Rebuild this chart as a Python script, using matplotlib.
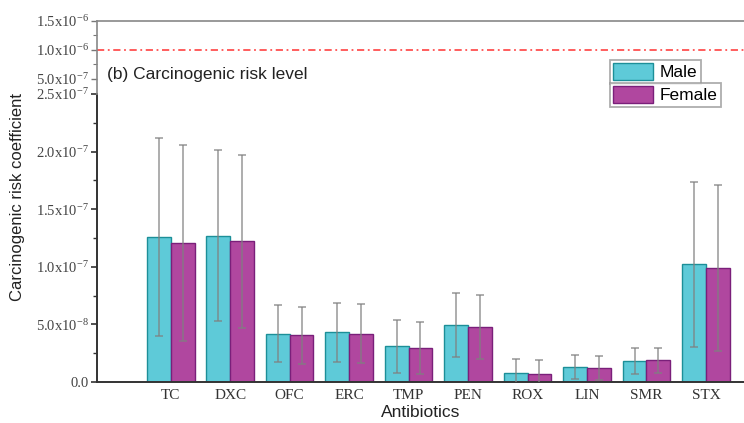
import numpy as np
import matplotlib
matplotlib.use("Agg")
import matplotlib.pyplot as plt
from matplotlib.patches import Patch
from matplotlib.ticker import FixedLocator

plt.rcParams['mathtext.fontset'] = 'custom'
plt.rcParams['mathtext.rm'] = 'Liberation Serif'

cats = ['TC', 'DXC', 'OFC', 'ERC', 'TMP', 'PEN', 'ROX', 'LIN', 'SMR', 'STX']
male = [1.26e-7, 1.27e-7, 4.2e-8, 4.3e-8, 3.1e-8, 4.95e-8, 7.8e-9, 1.3e-8, 1.82e-8, 1.02e-7]
male_err = [8.6e-8, 7.4e-8, 2.5e-8, 2.6e-8, 2.3e-8, 2.75e-8, 1.2e-8, 1.05e-8, 1.15e-8, 7.15e-8]
female = [1.21e-7, 1.22e-7, 4.05e-8, 4.2e-8, 2.98e-8, 4.77e-8, 7.2e-9, 1.24e-8, 1.88e-8, 9.9e-8]
female_err = [8.5e-8, 7.5e-8, 2.45e-8, 2.55e-8, 2.25e-8, 2.75e-8, 1.2e-8, 1.05e-8, 1.1e-8, 7.2e-8]
threshold = 1.0e-6

low_ticks = [0, 5e-8, 1e-7, 1.5e-7, 2e-7, 2.5e-7]
low_labels = ['0.0', r'$\mathregular{5.0x10^{-8}}$', r'$\mathregular{1.0x10^{-7}}$',
              r'$\mathregular{1.5x10^{-7}}$', r'$\mathregular{2.0x10^{-7}}$',
              r'$\mathregular{2.5x10^{-7}}$']
up_ticks = [5e-7, 1e-6, 1.5e-6]
up_labels = [r'$\mathregular{5.0x10^{-7}}$', r'$\mathregular{1.0x10^{-6}}$',
             r'$\mathregular{1.5x10^{-6}}$']

male_c, male_e = '#5ecad8', '#1c8f98'
fem_c, fem_e = '#b0479f', '#7a1f7a'

W, H = 744, 423
fig = plt.figure(figsize=(W / 100, H / 100), dpi=100)

left = 97 / W
width = 1.0 - left
ax = fig.add_axes([left, (H - 382) / H, width, (382 - 94) / H])
ax_up = fig.add_axes([left, (H - 94) / H, width, (94 - 21) / H], sharex=ax)

x = np.arange(1, len(cats) + 1)
bw = 0.4
ekw = dict(ecolor='#808080', elinewidth=1.2, capsize=2.8, capthick=1.2, alpha=0.75)
ax.bar(x - bw / 2, male, bw, color=male_c, edgecolor=male_e, linewidth=1.0, zorder=2)
ax.bar(x + bw / 2, female, bw, color=fem_c, edgecolor=fem_e, linewidth=1.0, zorder=2)
ax.errorbar(x - bw / 2, male, yerr=male_err, fmt='none', zorder=3, **ekw)
ax.errorbar(x + bw / 2, female, yerr=female_err, fmt='none', zorder=3, **ekw)

ax.set_xlim(-0.24, 10.64)
ax.set_ylim(0, 2.5e-7)
ax.set_xticks(x)
ax.set_xticklabels(cats, family='Liberation Serif', fontsize=11, color='#333333')
ax.tick_params(axis='x', length=0, pad=5)
ax.set_yticks(low_ticks)
ax.set_yticklabels(low_labels, family='Liberation Serif', fontsize=10.5, color='#444444')
ax.yaxis.set_minor_locator(FixedLocator(np.arange(2.5e-8, 2.5e-7, 5e-8)))
ax.tick_params(axis='y', which='major', direction='out', length=4, width=1.2, color='#333333', pad=2)
ax.tick_params(axis='y', which='minor', direction='out', length=3, width=1.0, color='#333333')
for s in ['top', 'right']:
    ax.spines[s].set_visible(False)
for s in ['left', 'bottom']:
    ax.spines[s].set_linewidth(1.4)
    ax.spines[s].set_color('#333333')

# upper part of the broken axis
lo_up = 5e-7 - (94 - 79) / 58 * 1e-6
ax_up.set_ylim(lo_up, 1.5e-6)
ax_up.axhline(threshold, color='#ff3333', linewidth=1.3, linestyle=(0, (4, 2, 1, 2)), alpha=0.85)
ax_up.set_yticks(up_ticks)
ax_up.set_yticklabels(up_labels, family='Liberation Serif', fontsize=10.5, color='#444444')
ax_up.yaxis.set_minor_locator(FixedLocator([7.5e-7, 1.25e-6]))
ax_up.tick_params(axis='y', which='major', direction='out', length=4, width=1.0, color='#777777', pad=2)
ax_up.tick_params(axis='y', which='minor', direction='out', length=3, width=0.8, color='#777777')
ax_up.tick_params(axis='x', bottom=False, labelbottom=False)
for s in ['bottom', 'right']:
    ax_up.spines[s].set_visible(False)
for s in ['left', 'top']:
    ax_up.spines[s].set_linewidth(1.2)
    ax_up.spines[s].set_color('#888888')
ax_up.patch.set_alpha(0)

fig.text(107 / W, 1 - 74 / H, '(b) Carcinogenic risk level', family='Liberation Sans',
         fontsize=12.5, va='center', ha='left', color='#222222')
fig.text(18 / W, 1 - 197 / H, 'Carcinogenic risk coefficient', family='Liberation Sans',
         fontsize=12, rotation=90, va='center', ha='center', color='#222222')
fig.text(421 / W, 1 - 412 / H, 'Antibiotics', family='Liberation Sans',
         fontsize=12.5, va='center', ha='center', color='#222222')

lkw = dict(loc='upper left', frameon=True, fancybox=False, borderpad=0.2,
           handlelength=2.3, handleheight=1.05, handletextpad=0.35, borderaxespad=0,
           prop={'family': 'Liberation Sans', 'size': 12.5})
for i, (lab, fc, ec) in enumerate([('Male', male_c, male_e), ('Female', fem_c, fem_e)]):
    top = [60, 83][i]
    leg = fig.legend(handles=[Patch(facecolor=fc, edgecolor=ec, linewidth=1.0)], labels=[lab],
                     bbox_to_anchor=(610 / W, 1 - top / H), **lkw)
    leg.get_frame().set_edgecolor('#999999')
    leg.get_frame().set_linewidth(1.3)

fig.savefig('out.png', dpi=100)
